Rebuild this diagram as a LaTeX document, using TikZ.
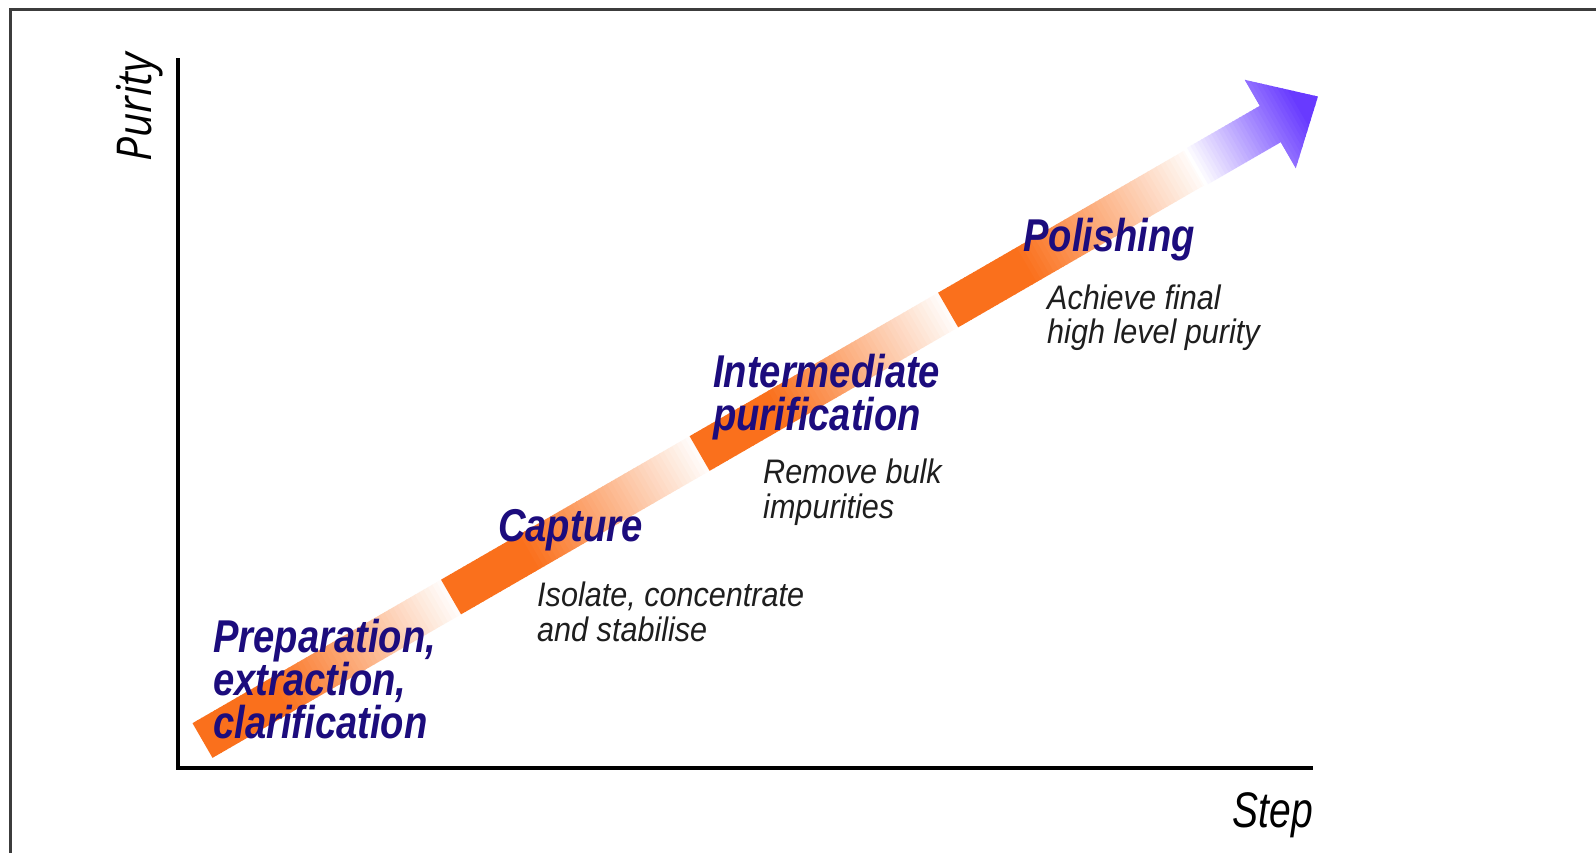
\documentclass[tikz,border=0pt]{standalone}
\usepackage{fontspec}
\setmainfont{Liberation Sans}
\newfontfamily\headfont[FakeStretch=0.83]{Liberation Sans}
\newfontfamily\notefont[FakeStretch=0.9]{Liberation Sans}
\newfontfamily\axisfont[FakeStretch=0.88]{Open Sans}
\newfontfamily\stepfont[FakeStretch=0.78]{Liberation Sans}

\definecolor{stagenavy}{RGB}{28,12,125}
\definecolor{stageorange}{RGB}{250,112,28}
\definecolor{tipviolet}{RGB}{104,58,255}
\definecolor{notegray}{RGB}{30,30,30}
\definecolor{framegray}{RGB}{60,60,60}

\tikzset{
  stagetitle/.style={font=\headfont\bfseries\itshape\fontsize{46}{#1}\selectfont,
    text=stagenavy, align=left, inner sep=0pt, anchor=base west},
  stagetitle/.default=43,
  stagenote/.style={font=\notefont\itshape\fontsize{34}{#1}\selectfont,
    text=notegray, align=left, inner sep=0pt, anchor=base west},
  stagenote/.default=34,
  axisline/.style={line width=4.5pt, black},
  framebox/.style={line width=3pt, framegray},
}

\begin{document}
\begin{tikzpicture}[x=1pt,y=-1pt]
\useasboundingbox (0,0) rectangle (1596,852);
\fill[white] (0,0) rectangle (1596,852);

% outer frame (open towards the right and bottom edges)
\draw[framebox] (10,860) -- (10,9) -- (1600,9);

% axes
\coordinate (top) at (178,58);
\coordinate (origin) at (178,768);
\coordinate (right) at (1313,768);
\draw[axisline] (top) -- (origin) -- (right);

% rising band: four orange stages fading to white, then the violet arrow
\begin{scope}[shift={(202.5,740.5)}, rotate=30]
  \foreach \k in {0,...,3} {
    \foreach \j in {0,...,56} {
      \pgfmathsetmacro{\f}{\j/57}
      \pgfmathsetmacro{\p}{\f<0.3 ? 100 : max(0,100*(1-\f)/0.7)}
      \fill[stageorange!\p!white]
        ({287*\k+5.035*\j},-20) rectangle ({287*\k+5.035*\j+5.9},20);
    }
  }
  \begin{scope}
    \clip (1145,-21) -- (1233,-21) -- (1233,-51) -- (1288,0)
          -- (1233,51) -- (1233,21) -- (1145,21) -- cycle;
    \foreach \j in {0,...,36} {
      \pgfmathsetmacro{\p}{min(100,100*\j/30)}
      \fill[tipviolet!\p!white]
        ({1145+4*\j},-60) rectangle ({1145+4*\j+4.8},60);
    }
  \end{scope}
\end{scope}

% axis titles
\node[rotate=90, anchor=base west, inner sep=0pt,
      font=\axisfont\itshape\fontsize{48}{48}\selectfont] (purity) at (151,162) {Purity};
\node[anchor=base east, inner sep=0pt,
      font=\stepfont\itshape\fontsize{50}{50}\selectfont] (step) at (1313,827) {Step};

% stage titles (anchored at the baseline of their last line)
\node[stagetitle=43] (prep) at (213,738) {Preparation,\\extraction,\\clarification};
\node[stagetitle] (capture) at (498,541) {Capture};
\node[stagetitle=43] (inter) at (713,430) {Intermediate\\purification};
\node[stagetitle] (polish) at (1023,251) {Polishing};

% stage descriptions
\node[stagenote=35] (capturenote) at (537,641) {Isolate, concentrate\\and stabilise};
\node[stagenote=35] (internote) at (763,518) {Remove bulk\\impurities};
\node[stagenote=34] (polishnote) at (1047,343) {Achieve final\\high level purity};
\end{tikzpicture}
\end{document}
